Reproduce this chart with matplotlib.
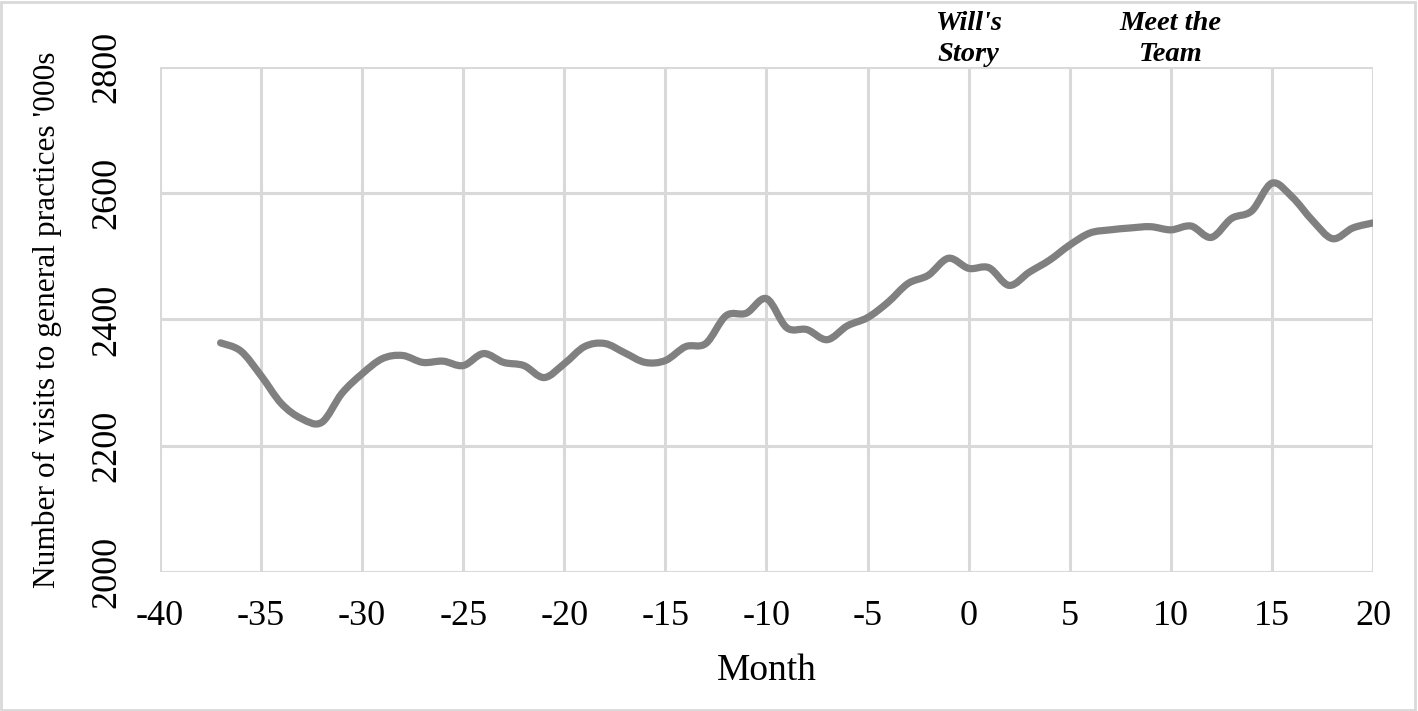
import numpy as np
import matplotlib.pyplot as plt
from matplotlib.path import Path
from matplotlib.patches import PathPatch, Rectangle

plt.rcParams['font.family'] = ['Liberation Serif', 'DejaVu Serif']
plt.rcParams['axes.unicode_minus'] = False

months = np.arange(-37, 21)
visits = [2363, 2350, 2311, 2267, 2243, 2237, 2283, 2314, 2338, 2343,
          2332, 2334, 2327, 2346, 2332, 2327, 2308, 2330, 2357, 2362,
          2347, 2332, 2335, 2357, 2362, 2406, 2410, 2433, 2387, 2384,
          2368, 2390, 2403, 2427, 2457, 2470, 2497, 2481, 2482, 2454,
          2475, 2494, 2518, 2537, 2542, 2545, 2547, 2542, 2548, 2530,
          2560, 2572, 2616, 2594, 2557, 2528, 2545, 2553]
events = ["Will's\nStory", "Meet the\nTeam"]
event_months = [0, 10]


def smooth_path(x, y, t=1/6):
    # Excel-style smoothed line: Catmull-Rom segments drawn as cubic Beziers
    x = np.asarray(x, float)
    y = np.asarray(y, float)
    xp = np.concatenate([[x[0]], x, [x[-1]]])
    yp = np.concatenate([[y[0]], y, [y[-1]]])
    verts = [(x[0], y[0])]
    codes = [Path.MOVETO]
    for i in range(len(x) - 1):
        c1 = (x[i] + (xp[i + 2] - xp[i]) * t, y[i] + (yp[i + 2] - yp[i]) * t)
        c2 = (x[i + 1] - (xp[i + 3] - xp[i + 1]) * t, y[i + 1] - (yp[i + 3] - yp[i + 1]) * t)
        verts += [c1, c2, (x[i + 1], y[i + 1])]
        codes += [Path.CURVE4] * 3
    return Path(verts, codes)


fig = plt.figure(figsize=(14.18, 7.11), dpi=100)
ax = fig.add_axes([0.1128, 0.1955, 0.8555, 0.7103])

ax.add_patch(PathPatch(smooth_path(months, visits), fill=False,
                       edgecolor='#808080', lw=5.2, capstyle='round',
                       joinstyle='round', zorder=3))

ax.set_xlim(-40, 20)
ax.set_ylim(2000, 2800)
ax.set_xticks(np.arange(-40, 21, 5))
ax.set_yticks(np.arange(2000, 2801, 200))
ax.grid(True, color='#d9d9d9', lw=2.2)
for s in ax.spines.values():
    s.set_visible(False)
ax.tick_params(length=0, labelsize=26)
ax.tick_params(axis='x', pad=20)
ax.tick_params(axis='y', pad=26)
for lab in ax.get_yticklabels():
    lab.set_rotation(90)
    lab.set_va('center')

ax.set_xlabel('Month', fontsize=27, labelpad=15)
ax.set_ylabel("Number of visits to general practices '000s", fontsize=22.6, labelpad=21)

for m, txt in zip(event_months, events):
    ax.text(m, 2800, txt, ha='center', va='bottom', fontsize=20.5,
            fontweight='bold', fontstyle='italic', linespacing=1.3)

fig.patches.append(Rectangle((0.001, 0.002), 0.997, 0.995, transform=fig.transFigure,
                             fill=False, edgecolor='#d9d9d9', lw=2))

fig.savefig('out.png', dpi=100)
